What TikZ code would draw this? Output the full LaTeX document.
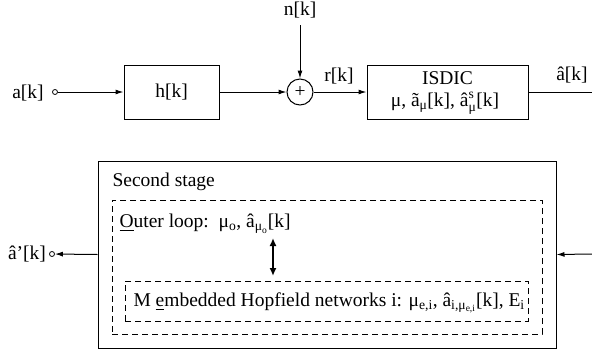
\documentclass[tikz,border=0pt]{standalone}
\usepackage{amsmath}
\usepackage{fontspec}
\setmainfont{Liberation Serif}
\usetikzlibrary{arrows.meta}
\begin{document}
\begin{tikzpicture}[x=1pt,y=-1pt,
  every node/.style={font=\fontsize{19.5}{23}\selectfont, inner sep=0pt, line width=1pt},
  arr/.style={line width=1pt,-{Latex[length=8pt,width=5pt]}},
  darr/.style={line width=2pt,{Latex[length=8pt,width=7pt]}-{Latex[length=8pt,width=7pt]}},
  blk/.style={draw,line width=1pt},
  dbox/.style={draw,line width=1pt,dash pattern=on 6pt off 4pt},
  port/.style={circle,draw,line width=0.8pt,minimum size=5pt}]
\useasboundingbox (0,0) rectangle (592,354);
% top row
\node (ak) at (28,93) {a[k]};
\node[port] (in) at (55,92) {};
\node[blk,minimum width=95pt,minimum height=54pt] (h) at (171.5,92) {h[k]};
\node[circle,draw,minimum size=26pt] (sum) at (300,92) {+};
\node (n) at (300,10) {n[k]};
\coordinate (ntop) at (300,25);
\node (r) at (339,76) {r[k]};
\node[blk,minimum width=161pt,minimum height=54pt] (isdic) at (447.5,92) {};
\node (isdict) at (447.5,78) {ISDIC};
\node (isdicp) at (445,103) {μ, ã\textsubscript{μ}[k], $\text{â}^{\text{s}}_{\text{μ}}$[k]};
\coordinate (out) at (592,92);
\node (ahat) at (572,75) {â[k]};
\draw[arr] (in) -- (h);
\draw[arr] (h) -- (sum);
\draw[arr] (ntop) -- (sum);
\draw[arr] (sum) -- (isdic);
\draw[line width=1pt] (isdic) -- (out);
% bottom
\node[blk,minimum width=458pt,minimum height=187pt] (stage) at (327,254.5) {};
\node[anchor=west] (st) at (112,182) {Second stage};
\node[dbox,minimum width=430pt,minimum height=134pt] (outer) at (327,267) {};
\node[dbox,minimum width=403pt,minimum height=40pt] (inner) at (326.5,301) {};
\node[anchor=west] (ol) at (119,224) {\underline{O}uter loop:\ \ μ\textsubscript{o}, â\textsubscript{μ\textsubscript{o}}[k]};
\node[anchor=west] (hn) at (133,303) {M \underline{e}mbedded Hopfield networks i: μ\textsubscript{e,i}, â\textsubscript{i,μ\textsubscript{e,i}}[k], E\textsubscript{i}};
\coordinate (dtop) at (273,238);
\coordinate (dbot) at (273,276);
\draw[darr] (dtop) -- (dbot);
\node[port] (outc) at (52,254) {};
\node (ap) at (27,254) {â’[k]};
\coordinate (rin) at (592,254);
\draw[arr] (stage.west) -- (outc);
\draw[arr] (rin) -- (stage.east);
\end{tikzpicture}
\end{document}
